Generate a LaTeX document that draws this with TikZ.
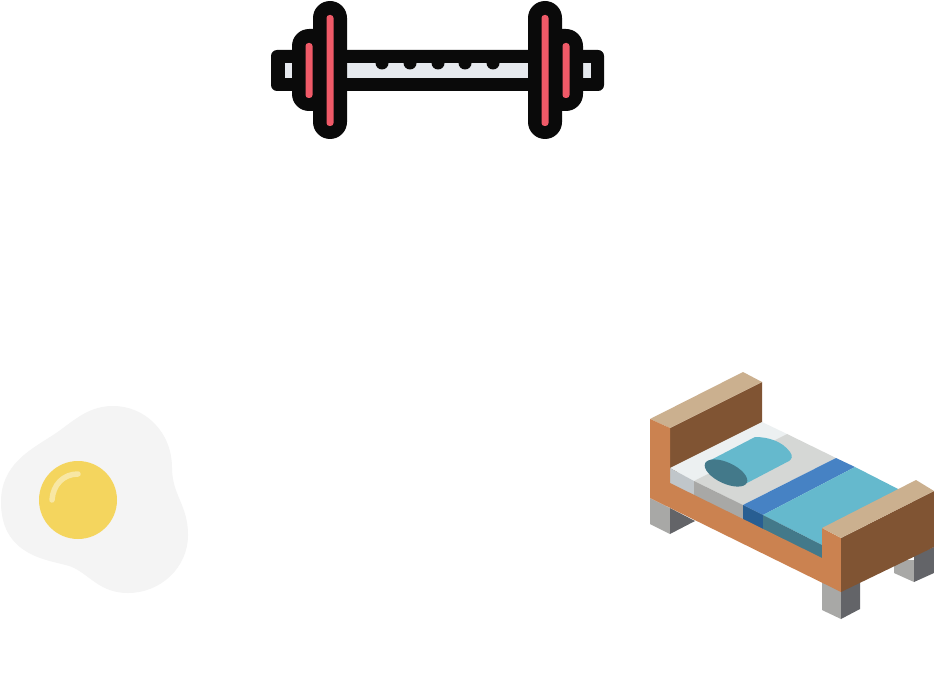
\documentclass[tikz,border=0pt]{standalone}
\definecolor{barblack}{HTML}{0A0A0A}
\definecolor{barred}{HTML}{F05A68}
\definecolor{barlight}{HTML}{E6E9EE}
\definecolor{eggwhite}{HTML}{F4F4F4}
\definecolor{yolk}{HTML}{F4D55E}
\definecolor{yolklight}{HTML}{F8E7A4}
\definecolor{woodtop}{HTML}{CBB08F}
\definecolor{wooddark}{HTML}{805433}
\definecolor{woodside}{HTML}{CB8250}
\definecolor{legleft}{HTML}{A8A8A6}
\definecolor{legright}{HTML}{636468}
\definecolor{sheetwhite}{HTML}{ECF0F1}
\definecolor{sheetside}{HTML}{C0C6CA}
\definecolor{sheetgrey}{HTML}{D5D7D5}
\definecolor{stripe}{HTML}{4682C4}
\definecolor{stripeside}{HTML}{285E92}
\definecolor{cover}{HTML}{65B9CD}
\definecolor{coverside}{HTML}{43798A}

\begin{document}
\begin{tikzpicture}[
  x=1pt, y=-1pt,
  outer/.style={fill=barblack, rounded corners=6pt},
  plate/.style={fill=barblack, rounded corners=17pt},
  redbar/.style={fill=barred, rounded corners=3pt},
  hole/.style={fill=barlight}
]
  \useasboundingbox[fill=white] (0,0) rectangle (934,674);

  % barbell
  \fill[outer] (271,50) rectangle (604,91);
  \fill[hole] (285,63) rectangle (293,78);
  \fill[hole] (347,63) rectangle (528,78);
  \fill[hole] (583,63) rectangle (591,78);
  \foreach \x in {382,410,438,465,493}
    \fill[barblack] (\x,63) circle (6.5);
  \fill[plate] (292,29) rectangle (340,111);
  \fill[plate] (535,29) rectangle (583,111);
  \fill[plate] (313,1) rectangle (347,139);
  \fill[plate] (528,1) rectangle (562,139);
  \fill[redbar] (326.5,15) rectangle (333.5,126);
  \fill[redbar] (541.5,15) rectangle (548.5,126);
  \fill[redbar] (305.5,43) rectangle (312.5,98);
  \fill[redbar] (562.5,43) rectangle (569.5,98);

  % egg
  \fill[eggwhite] (113,406) .. controls (145,406) and (172,432) .. (172,468)
    .. controls (172,495) and (188,505) .. (188,535)
    .. controls (188,568) and (160,593) .. (128,593)
    .. controls (100,593) and (90,575) .. (72,567)
    .. controls (55,560) and (1,560) .. (1,502)
    .. controls (1,465) and (30,450) .. (50,437)
    .. controls (70,425) and (85,406) .. (113,406) -- cycle;
  \fill[yolk] (78,500) circle (39);
  \draw[yolklight, line width=5.5pt, line cap=round]
    (52,500) .. controls (53,485) and (63,474) .. (78,474);

  % bed legs
  \fill[legleft] (650,498) -- (670,508) -- (670,534) -- (650,524) -- cycle;
  \fill[legright] (670,508) -- (695,521) -- (670,534) -- cycle;
  \fill[legleft] (894,560) -- (914,560) -- (914,582) -- (894,573) -- cycle;
  \fill[legright] (914,555) -- (934,547) -- (934,573) -- (914,582) -- cycle;
  \fill[legleft] (822,575) -- (841,585) -- (841,619) -- (822,610) -- cycle;
  \fill[legright] (841,585) -- (860,575) -- (860,609) -- (841,619) -- cycle;

  % headboard
  \fill[wooddark] (670,428) -- (762,382) -- (762,430) -- (670,476) -- cycle;
  \fill[woodtop] (650,419) -- (743,372) -- (762,382) -- (670,428) -- cycle;

  % mattress
  \fill[sheetwhite] (670,468) -- (762,422) -- (787,434) -- (694,481) -- cycle;
  \fill[sheetgrey] (694,481) -- (787,434) -- (836,458) -- (743,505) -- cycle;
  \fill[stripe] (743,505) -- (836,458) -- (855,467) -- (763,515) -- cycle;
  \fill[cover] (763,515) -- (855,467) -- (900,490) -- (822,530) -- (822,545) -- cycle;
  \fill[sheetside] (670,468) -- (694,481) -- (694,496) -- (670,484) -- cycle;
  \fill[legleft] (694,481) -- (743,505) -- (743,521) -- (694,496) -- cycle;
  \fill[stripeside] (743,505) -- (763,515) -- (763,531) -- (743,521) -- cycle;
  \fill[coverside] (763,515) -- (822,545) -- (822,560) -- (763,531) -- cycle;

  % pillow
  \fill[cover] (705,463) -- (755,437) .. controls (768,437) and (782,441) .. (790,452)
    .. controls (793,456) and (792,459) .. (789,461) -- (747,483) -- cycle;
  \fill[coverside, rotate around={-25:(726,473)}] (726,473) ellipse (23 and 10.5);

  % frame
  \fill[woodside] (650,419) -- (670,428) -- (670,483) -- (822,558) -- (822,528)
    -- (841,538) -- (841,592) -- (650,498) -- cycle;
  \fill[wooddark] (841,538) -- (934,491) -- (934,547) -- (841,592) -- cycle;
  \fill[woodtop] (822,528) -- (916,480) -- (934,491) -- (841,538) -- cycle;
\end{tikzpicture}
\end{document}
